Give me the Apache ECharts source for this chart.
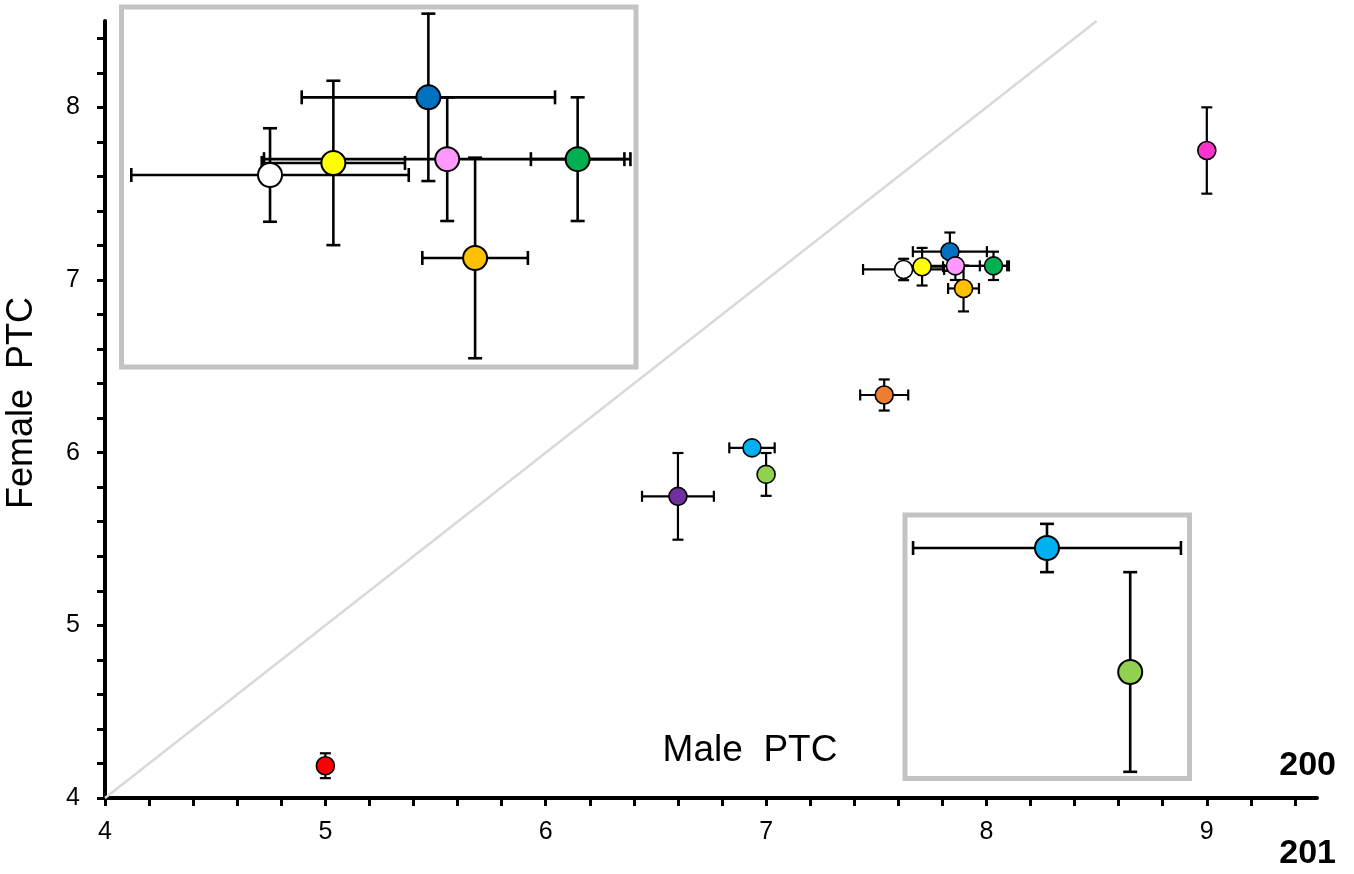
<!DOCTYPE html>
<html>
<head>
<meta charset="utf-8">
<script src="https://cdn.jsdelivr.net/npm/echarts@6/dist/echarts.min.js"></script>
<style>html,body{margin:0;padding:0;background:#fff}#main{width:1354px;height:874px}</style>
</head>
<body>
<div id="main"></div>
<script>
// PTC per group: male on x, female on y, with error half-widths
var malePTC   = [5.00, 6.60, 6.936, 7.00, 7.536, 9.00, 7.624, 7.708, 7.834, 7.859, 7.896, 8.032];
var femalePTC = [4.187, 5.747, 6.028, 5.874, 6.334, 7.75, 7.061, 7.077, 7.164, 7.082, 6.951, 7.082];
var maleErr   = [0, 0.163, 0.103, 0, 0.109, 0, 0.184, 0.095, 0.168, 0.243, 0.070, 0.062];
var femaleErr = [0.072, 0.251, 0.030, 0.124, 0.09, 0.25, 0.062, 0.109, 0.111, 0.082, 0.133, 0.082];
var dotColors = ['#ff0000', '#7030a0', '#00b0f0', '#92d050', '#ed7d31', '#ff33cc',
                 '#ffffff', '#ffff00', '#0070c0', '#ff99ff', '#ffc000', '#00b050'];
var xTickLabels = [4, 5, 6, 7, 8, 9];
var yTickLabels = [4, 5, 6, 7, 8];
var diagonal = [[4, 4], [8.5, 8.5]];
// points repeated in the two zoom boxes
var zoomTopLeft = [6, 7, 8, 9, 10, 11];
var zoomBottomRight = [2, 3];

var FONT = '"Liberation Sans", Arial, sans-serif';
var X_MIN = 4, X_MAX = 9.5, Y_MIN = 4, Y_MAX = 8.5;

var xMinor = [], yMinor = [];
for (var i = 0; i <= 27; i++) xMinor.push(+(X_MIN + i * 0.2).toFixed(1));
for (i = 0; i <= 22; i++) yMinor.push(+(Y_MIN + i * 0.2).toFixed(1));

function barData(idx) {
  return idx.map(function (k) { return [malePTC[k], femalePTC[k], maleErr[k], femaleErr[k]]; });
}
function dotData(idx) {
  return idx.map(function (k) {
    return { value: [malePTC[k], femalePTC[k]], itemStyle: { color: dotColors[k] } };
  });
}
var allIdx = malePTC.map(function (v, k) { return k; });

function errorBars(cap, width) {
  return function (params, api) {
    var x = api.value(0), y = api.value(1), ex = api.value(2), ey = api.value(3);
    var st = { stroke: '#000', lineWidth: width };
    var kids = [];
    function seg(x1, y1, x2, y2) {
      kids.push({ type: 'line', shape: { x1: x1, y1: y1, x2: x2, y2: y2 }, style: st });
    }
    if (ex > 0) {
      var a = api.coord([x - ex, y]), b = api.coord([x + ex, y]);
      seg(a[0], a[1], b[0], b[1]);
      seg(a[0], a[1] - cap / 2, a[0], a[1] + cap / 2);
      seg(b[0], b[1] - cap / 2, b[0], b[1] + cap / 2);
    }
    if (ey > 0) {
      var c = api.coord([x, y - ey]), d = api.coord([x, y + ey]);
      seg(c[0], c[1], d[0], d[1]);
      seg(c[0] - cap / 2, c[1], c[0] + cap / 2, c[1]);
      seg(d[0] - cap / 2, d[1], d[0] + cap / 2, d[1]);
    }
    return { type: 'group', children: kids };
  };
}

// tick numbers, placed through the axis scales
function tickText(isX) {
  return function (params, api) {
    var v = isX ? api.value(0) : api.value(1);
    var p = api.coord([api.value(0), api.value(1)]);
    return {
      type: 'text',
      x: isX ? p[0] : p[0] - 25,
      y: isX ? p[1] + 34 : p[1],
      style: { text: String(v), font: 'normal 25px ' + FONT, fill: '#000',
               align: isX ? 'center' : 'right', verticalAlign: 'middle' }
    };
  };
}

function hiddenAxis(gi, min, max) {
  return { type: 'value', gridIndex: gi, min: min, max: max, show: false, splitLine: { show: false } };
}

var chart = echarts.init(document.getElementById('main'));
var option = {
  backgroundColor: '#fff',
  animation: false,
  grid: [
    { left: 105, top: 21, right: 37, bottom: 76, outerBoundsMode: 'none' },
    { left: 121.5, top: 7, width: 514.5, height: 360, show: true, backgroundColor: '#fff',
      borderColor: '#c3c3c3', borderWidth: 5, outerBoundsMode: 'none' },
    { left: 905, top: 515, width: 284.5, height: 263.5, show: true, backgroundColor: '#fff',
      borderColor: '#c3c3c3', borderWidth: 5, outerBoundsMode: 'none' }
  ],
  xAxis: [
    { type: 'value', gridIndex: 0, min: X_MIN, max: X_MAX, interval: 1,
      axisLine: { show: true, onZero: false, lineStyle: { color: '#000', width: 4 } },
      axisTick: { show: true, length: 8, customValues: xMinor, lineStyle: { color: '#000', width: 3 } },
      axisLabel: { show: false },
      splitLine: { show: false } },
    hiddenAxis(1, 7.4270, 8.1094),
    hiddenAxis(2, 6.8268, 7.0456)
  ],
  yAxis: [
    { type: 'value', gridIndex: 0, min: Y_MIN, max: Y_MAX, interval: 1,
      axisLine: { show: true, onZero: false, lineStyle: { color: '#000', width: 4 } },
      axisTick: { show: true, length: 8, customValues: yMinor, lineStyle: { color: '#000', width: 3 } },
      axisLabel: { show: false },
      splitLine: { show: false } },
    hiddenAxis(1, 6.8064, 7.2838),
    hiddenAxis(2, 5.7417, 6.0690)
  ],
  series: [
    { type: 'line', xAxisIndex: 0, yAxisIndex: 0, data: diagonal, showSymbol: false, symbol: 'none',
      lineStyle: { color: '#d9d9d9', width: 2.5 }, z: 1, silent: true },
    { type: 'custom', xAxisIndex: 0, yAxisIndex: 0, clip: false, silent: true,
      data: xTickLabels.map(function (v) { return [v, Y_MIN]; }), renderItem: tickText(true) },
    { type: 'custom', xAxisIndex: 0, yAxisIndex: 0, clip: false, silent: true,
      data: yTickLabels.map(function (v) { return [X_MIN, v]; }), renderItem: tickText(false) },
    { type: 'custom', xAxisIndex: 0, yAxisIndex: 0, data: barData(allIdx), renderItem: errorBars(11, 2.2),
      encode: { x: 0, y: 1 }, z: 3 },
    { type: 'scatter', xAxisIndex: 0, yAxisIndex: 0, data: dotData(allIdx), symbolSize: 18,
      itemStyle: { borderColor: '#000', borderWidth: 1.6, opacity: 1 }, z: 5 },
    { type: 'custom', xAxisIndex: 1, yAxisIndex: 1, data: barData(zoomTopLeft), renderItem: errorBars(14, 2.6),
      encode: { x: 0, y: 1 }, z: 3 },
    { type: 'scatter', xAxisIndex: 1, yAxisIndex: 1, data: dotData(zoomTopLeft), symbolSize: 24,
      itemStyle: { borderColor: '#000', borderWidth: 2, opacity: 1 }, z: 5 },
    { type: 'custom', xAxisIndex: 2, yAxisIndex: 2, data: barData(zoomBottomRight), renderItem: errorBars(14, 2.6),
      encode: { x: 0, y: 1 }, z: 3 },
    { type: 'scatter', xAxisIndex: 2, yAxisIndex: 2, data: dotData(zoomBottomRight), symbolSize: 24,
      itemStyle: { borderColor: '#000', borderWidth: 2, opacity: 1 }, z: 5 }
  ],
  graphic: [
    { type: 'text', x: 22, y: 403, rotation: Math.PI / 2,
      style: { text: 'Female  PTC', fontSize: 36, fontFamily: FONT, fill: '#000', align: 'center', verticalAlign: 'middle' } },
    { type: 'text', x: 750, y: 751,
      style: { text: 'Male  PTC', fontSize: 37, fontFamily: FONT, fill: '#000', align: 'center', verticalAlign: 'middle' } },
    { type: 'text', x: 1336, y: 766,
      style: { text: '200', fontSize: 34, fontWeight: 'bold', fontFamily: FONT, fill: '#000', align: 'right', verticalAlign: 'middle' } },
    { type: 'text', x: 1336, y: 854,
      style: { text: '201', fontSize: 34, fontWeight: 'bold', fontFamily: FONT, fill: '#000', align: 'right', verticalAlign: 'middle' } }
  ]
};
chart.setOption(option);
</script>
</body>
</html>
